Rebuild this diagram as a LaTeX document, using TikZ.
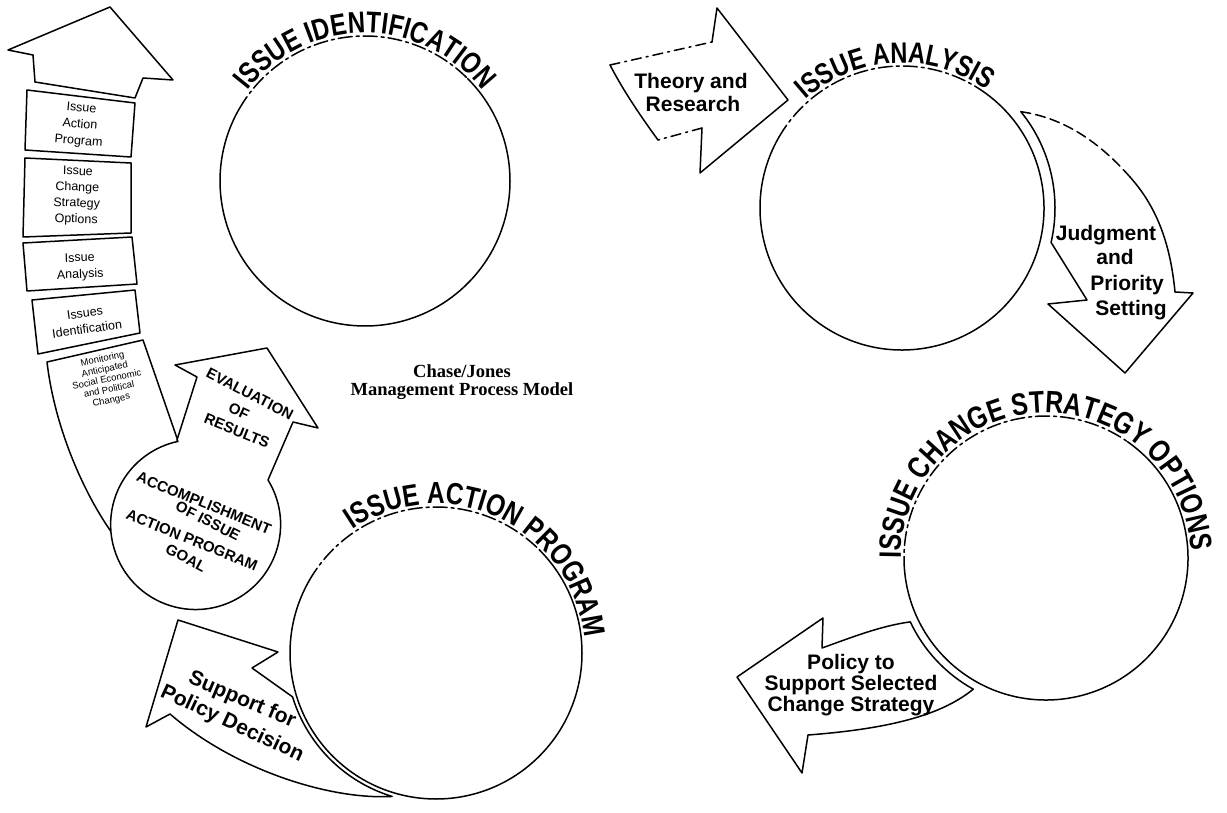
\documentclass[tikz,border=0pt]{standalone}
\usepackage{fontspec}
\setmainfont{Liberation Sans}
\newfontfamily\lsans{Liberation Sans}
\newfontfamily\titlefont[FakeStretch=0.8]{Liberation Sans Bold}
\newfontfamily\serifface{Liberation Serif}
\usetikzlibrary{decorations.text}
\begin{document}
\begin{tikzpicture}[x=1pt,y=-1pt,line width=1.5pt,line join=round,line cap=round,
  topdash/.style={dash pattern=on 14pt off 4pt on 3pt off 4pt},
  edgedash/.style={dash pattern=on 10pt off 5pt on 2pt off 5pt},
  boxtxt/.style={font=\lsans\fontsize{12.5}{16.5}\selectfont,align=center,inner sep=0pt},
  tinytxt/.style={font=\lsans\fontsize{9.5}{10.5}\selectfont,align=center,inner sep=0pt},
  captxt/.style={font=\lsans\bfseries\fontsize{15}{15}\selectfont,inner sep=0pt},
  lbl/.style={font=\lsans\bfseries\fontsize{21}{21}\selectfont,inner sep=0pt,align=center},
  chasecap/.style={font=\serifface\bfseries\fontsize{18.5}{20}\selectfont,inner sep=0pt},
  arctitle/.style 2 args={decorate,decoration={text along path,text align=center,
     text={|\titlefont\fontsize{#1}{#1}\selectfont|#2}}}
]
\useasboundingbox (0,0) rectangle (1227,813);

% circle centres
\coordinate (c1) at (365,181);
\coordinate (c2) at (902,208);
\coordinate (c3) at (1046,558);
\coordinate (c4) at (436,653);

% ---- circle 1: ISSUE IDENTIFICATION
\draw ([shift={(-45:145)}]c1) arc[start angle=-45,end angle=210,radius=145];
\draw[topdash] ([shift={(-150:145)}]c1) arc[start angle=-150,end angle=-45,radius=145];
\path[arctitle={30}{ISSUE IDENTIFICATION}] ([shift={(-165:148)}]c1) arc[start angle=-165,end angle=-15,radius=148];

% ---- circle 2: ISSUE ANALYSIS
\draw ([shift={(-55:142)}]c2) arc[start angle=-55,end angle=210,radius=142];
\draw[topdash] ([shift={(-150:142)}]c2) arc[start angle=-150,end angle=-55,radius=142];
\path[arctitle={29.5}{ISSUE ANALYSIS}] ([shift={(-163:145)}]c2) arc[start angle=-163,end angle=-23,radius=145];

% ---- circle 3: ISSUE CHANGE STRATEGY OPTIONS
\draw ([shift={(-55:142)}]c3) arc[start angle=-55,end angle=175,radius=142];
\draw[topdash] ([shift={(-185:142)}]c3) arc[start angle=-185,end angle=-55,radius=142];
\path[arctitle={31}{ISSUE CHANGE STRATEGY OPTIONS}] ([shift={(-200:145)}]c3) arc[start angle=-200,end angle=17,radius=145];

% ---- circle 4: ISSUE ACTION PROGRAM
\draw ([shift={(-45:146)}]c4) arc[start angle=-45,end angle=210,radius=146];
\draw[topdash] ([shift={(-150:146)}]c4) arc[start angle=-150,end angle=-45,radius=146];
\path[arctitle={30.5}{ISSUE ACTION PROGRAM}] ([shift={(-150:149)}]c4) arc[start angle=-150,end angle=20,radius=149];

% ---- big left arrow: head and boxes
\draw (35,82) -- (33,55) -- (8,50) -- (110,7) -- (173,80) -- (143,78) -- (135,98) -- cycle;
\draw (27,90) -- (135,103) -- (131,157) -- (25,150) -- cycle;
\draw (25,158) -- (131,163) -- (131,233) -- (23,237) -- cycle;
\draw (23,243) -- (132,237) -- (137,284) -- (27,291) -- cycle;
\draw (32,300) -- (135,290) -- (140,333) -- (38,354) -- cycle;
% tail
\draw[fill=white] (47,362) -- (143,340) -- (178,441) -- (200,520) -- (112,533)
   .. controls (85,495) and (55,430) .. (47,362) -- cycle;

\node[boxtxt,rotate=-5] (b1) at (80,125) {Issue\\Action\\Program};
\node[boxtxt,rotate=-2,font=\lsans\fontsize{12.5}{16}\selectfont] (b2) at (77,196) {Issue\\Change\\Strategy\\Options};
\node[boxtxt,rotate=2] (b3) at (80,267) {Issue\\Analysis};
\node[boxtxt,rotate=8,font=\lsans\fontsize{12.5}{16}\selectfont] (b4) at (86,321) {Issues\\Identification};
\node[tinytxt,rotate=12] (b5) at (107,380) {Monitoring\\Anticipated\\Social Economic\\and Political\\Changes};

% ---- ball with evaluation arrow
\draw[fill=white] (177,440) -- (197,377) -- (175,365) -- (267,348) -- (318,428) -- (293,422) -- (268,480)
   arc[start angle=-31.6,end angle=258,radius=85] -- cycle;
\node[captxt,rotate=-27] (ev1) at (250,394) {EVALUATION};
\node[captxt,rotate=-25] (ev2) at (239,411) {OF};
\node[captxt,rotate=-22] (ev3) at (237,431) {RESULTS};
\node[captxt,rotate=-22] (ac1) at (204,503) {ACCOMPLISHMENT};
\node[captxt,rotate=-27] (ac2) at (208,521) {OF ISSUE};
\node[captxt,rotate=-22] (ac3) at (192,540) {ACTION PROGRAM};
\node[captxt,rotate=-28] (ac4) at (186,558) {GOAL};

% ---- caption (in an unflipped scope)
\begin{scope}[y=1pt]
\node[chasecap] (chaseA) at (462,-371) {Chase/Jones};
\node[chasecap] (chaseB) at (462,-391) {Management Process Model};
\end{scope}

% ---- Theory and Research arrow
\coordinate (tA) at (610,65);
\coordinate (tB) at (712,42);
\coordinate (tC) at (717,8);
\coordinate (tD) at (788,100);
\coordinate (tE) at (700,173);
\coordinate (tF) at (702,128);
\coordinate (tG) at (658,140);
\draw (tB) -- (tC) -- (tD) -- (tE) -- (tF);
\draw[edgedash] (tA) -- (tB);
\draw[edgedash] (tF) -- (tG);
\draw (tG) .. controls (642,118) and (624,92) .. (tA);
\node[lbl] (th1) at (691,83) {Theory and};
\node[lbl] (th2) at (693,104) {Research};

% ---- Judgment arrow
\draw ([shift={(-39:153)}]c2) coordinate (jtop) arc[start angle=-39,end angle=13,radius=153]
   -- (1087,300) -- (1048,304) -- (1125,373) -- (1193,293) -- (1175,292)
   .. controls (1170,240) and (1155,205) .. (1130,177);
\draw[dash pattern=on 10pt off 5pt] (1130,177) .. controls (1100,143) and (1065,118) .. (jtop);
\node[lbl] (j1) at (1106,235) {Judgment};
\node[lbl] (j2) at (1115,257) {and};
\node[lbl] (j3) at (1127,285) {Priority};
\node[lbl] (j4) at (1131,310) {Setting};

% ---- Policy arrow
\draw (822,648) .. controls (850,638) and (880,626) .. ([shift={(-205.2:150)}]c3)
   arc[start angle=-205.2,end angle=-241,radius=150]
   .. controls (945,712) and (900,728) .. (808,735) -- (802,773) -- (737,677) -- (823,618) -- cycle;
\node[lbl] (po) at (851,685) {Policy to\\Support Selected\\Change Strategy};

% ---- Support arrow
\draw (178,620) -- (278,652) -- (252,668) -- ([shift={(-197:150)}]c4)
   arc[start angle=-197,end angle=-253,radius=150]
   .. controls (330,800) and (235,770) .. (170,714) -- (146,727) -- cycle;
\node[lbl,rotate=-23] (su1) at (242,700) {Support for};
\node[lbl,rotate=-25] (su2) at (232,724) {Policy Decision};
\end{tikzpicture}
\end{document}
